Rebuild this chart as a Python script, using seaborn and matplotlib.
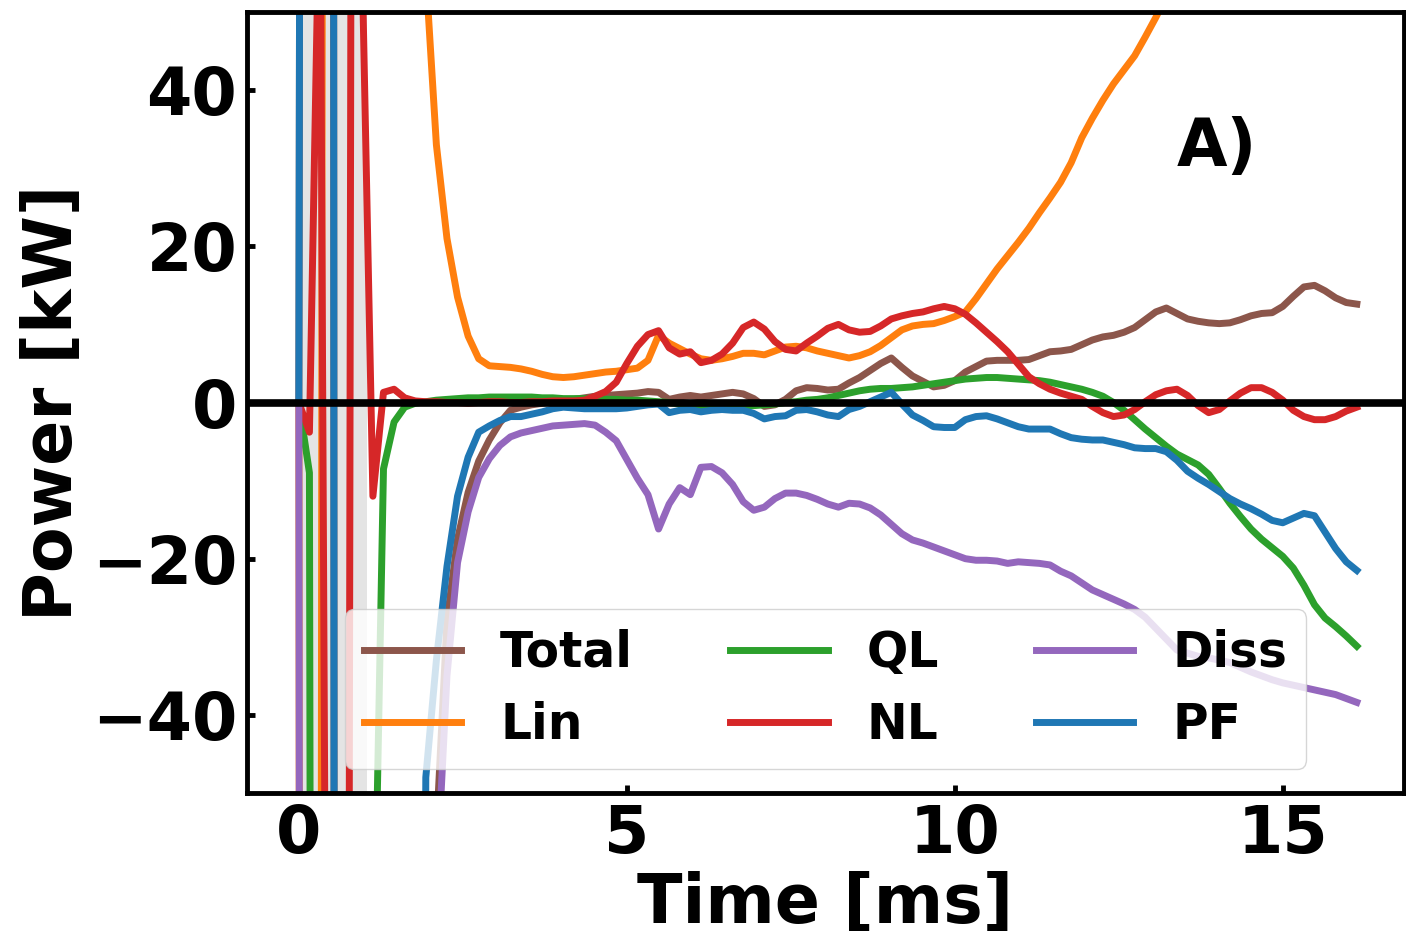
import numpy as np
import pandas as pd
import matplotlib
matplotlib.use('Agg')
import matplotlib.pyplot as plt
import seaborn as sns

# time axis [ms], uniform sampling
time_ms = np.linspace(0, 16.13, 101)

total = [0, 800, 600, 900, -2000, -1500, -900, -700, -500, -400,
         -350, -320, -300, -55, -28, -17.5, -11.5, -7.5, -4.8, -2.6,
         -1.0, -0.6, -0.3, -0.1, 0.1, 0.3, 0.4, 0.6, 0.8, 0.9,
         1.0, 1.1, 1.2, 1.4, 1.3, 0.4, 0.7, 0.9, 0.7, 0.9,
         1.1, 1.3, 1.1, 0.5, -0.5, -0.3, 0.4, 1.5, 1.9, 1.8,
         1.6, 1.7, 2.5, 3.2, 4.1, 5.0, 5.7, 4.5, 3.4, 2.7,
         2.0, 2.2, 2.8, 3.9, 4.6, 5.3, 5.4, 5.4, 5.4, 5.5,
         6.0, 6.5, 6.6, 6.8, 7.4, 8.0, 8.4, 8.6, 9.0, 9.6,
         10.6, 11.6, 12.1, 11.4, 10.7, 10.4, 10.2, 10.1, 10.2, 10.6,
         11.1, 11.4, 11.5, 12.3, 13.6, 14.8, 15.0, 14.3, 13.4, 12.8,
         12.6]

lin = [0, -1500, -200, 1000, 1400, 1200, 900, 600, 400, 250,
       150, 90, 55, 33, 21, 13.5, 8.5, 5.6, 4.7, 4.6,
       4.5, 4.3, 4.0, 3.6, 3.3, 3.2, 3.3, 3.5, 3.7, 3.9,
       4.0, 4.2, 4.4, 5.4, 8.6, 7.6, 6.9, 6.2, 5.6, 5.4,
       5.6, 5.9, 6.3, 6.3, 6.1, 6.6, 7.1, 7.2, 7.0, 6.6,
       6.3, 6.0, 5.7, 6.0, 6.5, 7.3, 8.3, 9.3, 9.8, 10.0,
       10.1, 10.5, 11.0, 11.6, 13.3, 15.2, 17.1, 18.8, 20.5, 22.3,
       24.3, 26.2, 28.2, 30.7, 33.9, 36.4, 38.7, 40.8, 42.6, 44.4,
       46.8, 49.3, 52.0, 55.1, 58.0, 60.6, 63.9, 67.2, 70.1, 73.5,
       76.8, 80.2, 83.1, 86.9, 90.4, 93.8, 97.7, 101.2, 104.9, 108.3,
       112.0]

ql = [0, -9, -700, -900, -600, -400, -200, -80, -8.5, -2.5,
      -0.6, -0.1, 0.1, 0.3, 0.4, 0.5, 0.6, 0.6, 0.7, 0.7,
      0.7, 0.7, 0.7, 0.6, 0.6, 0.5, 0.5, 0.5, 0.5, 0.4,
      0.4, 0.3, 0.3, 0.2, 0.1, 0.0, -0.2, -0.4, -0.5, -0.6,
      -0.6, -0.6, -0.5, -0.4, -0.3, -0.2, 0.0, 0.1, 0.3, 0.4,
      0.6, 0.9, 1.2, 1.5, 1.7, 1.8, 1.8, 1.9, 2.0, 2.2,
      2.4, 2.6, 2.8, 3.0, 3.1, 3.2, 3.2, 3.1, 3.0, 2.9,
      2.8, 2.6, 2.3, 2.0, 1.7, 1.3, 0.8, 0.0, -1.0, -2.2,
      -3.4, -4.5, -5.6, -6.6, -7.3, -8.0, -9.2, -11.0, -12.9, -14.6,
      -16.2, -17.5, -18.6, -19.7, -21.2, -23.4, -25.9, -27.6, -28.7, -29.9,
      -31.2]

nl = [0, -3.8, 70, -200, -580, 110, 55, -12, 1.3, 1.7,
      0.6, 0.2, 0.1, 0.1, 0.0, 0.0, -0.1, 0.0, 0.1, 0.1,
      0.0, 0.0, 0.1, 0.1, 0.2, 0.2, 0.2, 0.3, 0.8, 1.4,
      2.6, 5.0, 7.2, 8.7, 9.2, 7.0, 6.2, 6.5, 5.1, 5.4,
      6.2, 7.6, 9.6, 10.3, 9.4, 7.8, 6.8, 6.6, 7.6, 8.5,
      9.5, 10.0, 9.3, 9.0, 9.1, 9.8, 10.7, 11.1, 11.4, 11.6,
      12.0, 12.3, 12.0, 11.3, 10.2, 9.0, 7.8, 6.5, 4.9, 3.3,
      2.4, 1.7, 1.2, 0.8, 0.4, -0.5, -1.3, -1.8, -1.6, -0.9,
      0.1, 1.0, 1.5, 1.7, 0.9, -0.4, -1.3, -0.9, 0.2, 1.2,
      1.9, 1.9, 1.3, 0.3, -1.0, -1.8, -2.2, -2.2, -1.8, -1.1,
      -0.6]

diss = [0, -1200, -1500, -1000, -800, -600, -500, -400, -300, -250,
        -200, -170, -150, -62, -35, -20.5, -14, -9.6, -7.2, -5.5,
        -4.4, -3.9, -3.6, -3.3, -3.0, -2.9, -2.8, -2.7, -2.9, -3.8,
        -4.9, -7.3, -9.7, -11.8, -16.2, -13.0, -10.9, -11.8, -8.3, -8.2,
        -9.0, -10.5, -12.7, -13.8, -13.4, -12.3, -11.6, -11.6, -11.9, -12.4,
        -13.0, -13.4, -12.9, -13.0, -13.5, -14.4, -15.6, -16.8, -17.6, -18.0,
        -18.5, -19.0, -19.5, -20.0, -20.2, -20.2, -20.3, -20.6, -20.4, -20.5,
        -20.6, -20.8, -21.6, -22.2, -23.1, -24.0, -24.6, -25.2, -25.8, -26.5,
        -27.5, -28.9, -30.3, -31.7, -32.1, -32.5, -32.7, -33.0, -33.3, -33.9,
        -34.5, -35.0, -35.5, -35.9, -36.2, -36.5, -36.8, -37.1, -37.4, -37.9,
        -38.4]

pf = [0, 800, 600, 900, -2000, -1500, -900, -700, -500, -400,
      -350, -300, -48, -33, -21, -12, -7, -3.8, -3.0, -2.3,
      -1.8, -1.8, -1.5, -1.2, -0.8, -0.6, -0.7, -0.8, -0.8, -0.8,
      -0.8, -0.7, -0.5, -0.3, -0.2, -1.3, -1.0, -0.9, -1.2, -1.0,
      -0.9, -1.0, -1.0, -1.4, -2.1, -1.8, -1.7, -1.0, -0.9, -1.2,
      -1.6, -1.8, -0.9, -0.5, 0.1, 0.7, 1.3, -0.2, -1.6, -2.3,
      -3.1, -3.2, -3.2, -2.2, -1.8, -1.7, -2.1, -2.6, -3.1, -3.4,
      -3.4, -3.4, -4.0, -4.5, -4.7, -4.8, -4.8, -5.1, -5.4, -5.8,
      -5.9, -5.9, -6.3, -7.4, -8.8, -9.7, -10.5, -11.4, -12.3, -13.0,
      -13.6, -14.3, -15.1, -15.4, -14.8, -14.2, -14.5, -16.6, -18.7, -20.4,
      -21.5]

names = ['Total', 'Lin', 'QL', 'NL', 'Diss', 'PF']
colors = ['tab:brown', 'tab:orange', 'tab:green', 'tab:red', 'tab:purple', 'tab:blue']
series = [total, lin, ql, nl, diss, pf]

plt.rcParams['font.family'] = ['DejaVu Sans']
plt.rcParams['font.weight'] = 'bold'
plt.rcParams['axes.labelweight'] = 'bold'

fig, ax = plt.subplots(figsize=(14.06, 9.39), dpi=100)
fig.subplots_adjust(left=0.1757, right=0.9986, bottom=0.1555, top=0.9872)

ax.axvspan(0, 1.04, color='lightgray', alpha=0.6, lw=0, zorder=0)

for name, col, vals in zip(names, colors, series):
    sns.lineplot(x=time_ms, y=vals, color=col, lw=5, label=name, ax=ax)

ax.axhline(0, color='black', lw=5.5)
ax.set_xlim(-0.79, 16.85)
ax.set_ylim(-50, 50)
ax.set_xticks([0, 5, 10, 15])
ax.set_yticks([-40, -20, 0, 20, 40])

ax.set_xlabel('Time [ms]', fontsize=48, fontweight='bold', labelpad=3)
ax.set_ylabel('Power [kW]', fontsize=48, fontweight='bold')
ax.tick_params(direction='in', length=6, width=3.5, labelsize=47, pad=7,
               top=False, right=False)
for s in ax.spines.values():
    s.set_linewidth(3.5)

ax.text(0.838, 0.826, 'A)', transform=ax.transAxes, fontsize=47,
        fontweight='bold', ha='center', va='center')

ax.legend(ncol=3, loc='lower center', fontsize=35)

fig.savefig('out.png', dpi=100)
